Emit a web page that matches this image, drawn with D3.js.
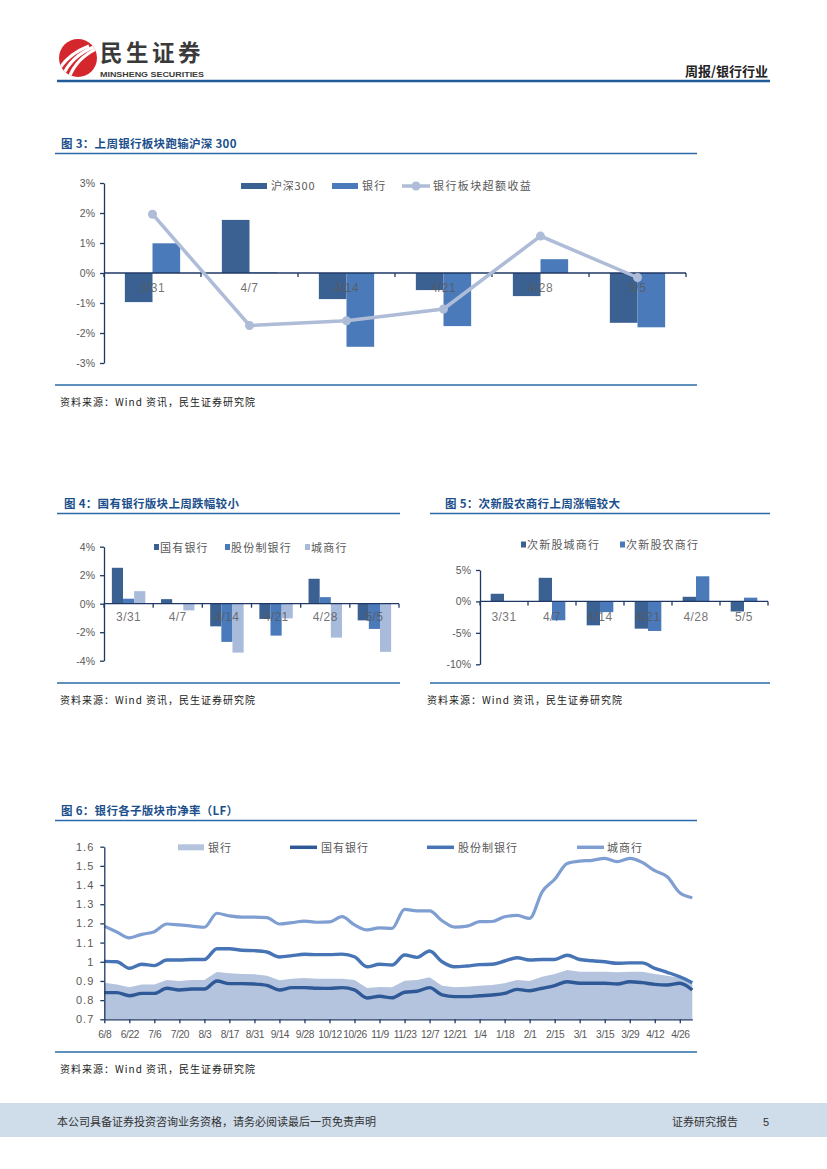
<!DOCTYPE html>
<html>
<head>
<meta charset="utf-8">
<script src="https://cdn.jsdelivr.net/npm/d3@7"></script>
<style>
  body { margin: 0; background: #fff; }
  svg text { font-family: "Liberation Sans", Arial, "Noto Sans CJK SC", sans-serif; }
  .cjk { font-family: "Noto Sans CJK SC", sans-serif; }
</style>
</head>
<body>
<svg id="page" width="827" height="1169"></svg>
<script>
// 图3 数据
const weeks = ["3/31", "4/7", "4/14", "4/21", "4/28", "5/5"];
const hs300 = [-0.97, 1.77, -0.87, -0.57, -0.77, -1.66];
const bankIdx = [0.99, 0.02, -2.46, -1.77, 0.46, -1.81];
const excess = [1.96, -1.75, -1.59, -1.2, 1.23, -0.15];
const ticks3 = [3, 2, 1, 0, -1, -2, -3];

// 图4 数据
const stateOwned = [2.52, 0.32, -1.59, -1.07, 1.75, -1.17];
const jointStock = [0.35, 0.02, -2.68, -2.24, 0.46, -1.77];
const cityComm = [0.88, -0.47, -3.43, -1.03, -2.38, -3.38];
const ticks4 = [4, 2, 0, -2, -4];

// 图5 数据
const newCity = [1.22, 3.76, -3.8, -4.33, 0.74, -1.6];
const newRural = [0, -3.0, -1.7, -4.7, 4.0, 0.6];
const ticks5 = [5, 0, -5, -10];

// 图6 数据（周度市净率）
const dates6 = ["6/8","6/15","6/22","6/29","7/6","7/13","7/20","7/27","8/3","8/10","8/17","8/24",
  "8/31","9/7","9/14","9/21","9/28","10/5","10/12","10/19","10/26","11/2","11/9","11/16",
  "11/23","11/30","12/7","12/14","12/21","12/28","1/4","1/11","1/18","1/25","2/1","2/8",
  "2/15","2/22","3/1","3/8","3/15","3/22","3/29","4/5","4/12","4/19","4/26","5/3"];
const pbBank = [0.891,0.882,0.867,0.882,0.882,0.905,0.9,0.905,0.905,0.947,0.94,0.936,
  0.935,0.927,0.903,0.912,0.915,0.912,0.912,0.912,0.905,0.863,0.868,0.867,
  0.901,0.905,0.919,0.875,0.867,0.87,0.875,0.879,0.888,0.905,0.9,0.922,
  0.936,0.957,0.948,0.948,0.948,0.945,0.948,0.948,0.936,0.927,0.917,0.891];
const pbState = [0.839,0.839,0.823,0.835,0.835,0.862,0.853,0.858,0.858,0.9,0.886,0.886,
  0.884,0.877,0.853,0.865,0.865,0.862,0.861,0.865,0.853,0.811,0.82,0.812,
  0.841,0.846,0.865,0.827,0.818,0.818,0.823,0.827,0.835,0.856,0.849,0.862,
  0.876,0.896,0.888,0.888,0.888,0.884,0.896,0.891,0.882,0.879,0.888,0.853];
const pbJoint = [1.002,1.0,0.966,0.987,0.98,1.009,1.009,1.012,1.012,1.068,1.068,1.06,
  1.058,1.051,1.025,1.032,1.039,1.037,1.037,1.04,1.026,0.974,0.987,0.983,
  1.035,1.023,1.056,1.0,0.974,0.978,0.985,0.987,1.004,1.021,1.009,1.012,
  1.012,1.034,1.012,1.005,1.0,0.992,0.994,0.994,0.966,0.945,0.922,0.891];
const pbCity = [1.186,1.155,1.125,1.143,1.157,1.197,1.192,1.186,1.18,1.253,1.239,1.233,
  1.233,1.23,1.197,1.204,1.212,1.206,1.208,1.235,1.192,1.166,1.177,1.174,
  1.273,1.265,1.265,1.214,1.181,1.186,1.209,1.21,1.235,1.242,1.226,1.365,
  1.43,1.513,1.525,1.529,1.539,1.522,1.539,1.518,1.475,1.443,1.36,1.334];
const ticks6 = [1.6, 1.5, 1.4, 1.3, 1.2, 1.1, 1, 0.9, 0.8, 0.7];

const navy = "#1f3864";
const grey = "#595959";
const rule = "#2b6aa9";

const svg = d3.select("#page");

// ---------- 页眉 ----------
const clip = svg.append("defs").append("clipPath").attr("id", "logoClip");
clip.append("circle").attr("cx", 78).attr("cy", 58).attr("r", 19);
const logo = svg.append("g");
logo.append("circle").attr("cx", 78).attr("cy", 58).attr("r", 19).attr("fill", "#d3262d");
const sw = logo.append("g").attr("clip-path", "url(#logoClip)");
[-9, -2, 5].forEach((o) => {
  sw.append("path")
    .attr("d", `M${64 + o},${78} Q${72 + o},${56} ${98 + o},${46}`)
    .attr("fill", "none").attr("stroke", "#fff").attr("stroke-width", 3.2);
});
svg.append("text").attr("class", "cjk").attr("x", 100).attr("y", 61)
  .attr("font-size", 22.5).attr("font-weight", 700).attr("letter-spacing", 3.5)
  .attr("fill", "#3a3a3a").text("民生证券");
svg.append("text").attr("x", 100).attr("y", 76.5).attr("font-size", 8).attr("font-weight", 700)
  .attr("fill", "#3a3a3a").attr("textLength", 104).attr("lengthAdjust", "spacingAndGlyphs")
  .text("MINSHENG SECURITIES");
svg.append("text").attr("class", "cjk").attr("x", 768).attr("y", 76).attr("text-anchor", "end")
  .attr("font-size", 13).attr("font-weight", 700).attr("fill", "#222").text("周报/银行行业");
svg.append("line").attr("x1", 57).attr("x2", 770).attr("y1", 81).attr("y2", 81)
  .attr("stroke", "#1f5c99").attr("stroke-width", 2.5);

// ---------- 页脚 ----------
svg.append("rect").attr("x", 0).attr("y", 1103).attr("width", 827).attr("height", 34).attr("fill", "#cfdcea");
svg.append("text").attr("class", "cjk").attr("x", 57).attr("y", 1126).attr("font-size", 11)
  .attr("fill", "#333").text("本公司具备证券投资咨询业务资格，请务必阅读最后一页免责声明");
svg.append("text").attr("class", "cjk").attr("x", 738).attr("y", 1126).attr("text-anchor", "end")
  .attr("font-size", 11).attr("fill", "#333").text("证券研究报告");
svg.append("text").attr("x", 763).attr("y", 1126).attr("font-size", 11).attr("fill", "#333").text("5");

// 图框：标题、上下分隔线、资料来源
function frame(o) {
  svg.append("text").attr("class", "cjk").attr("x", o.tx).attr("y", o.ty)
    .attr("font-size", 11.5).attr("font-weight", 700).attr("fill", "#1b4f8c")
    .attr("letter-spacing", 0.3).text(o.title);
  svg.append("line").attr("x1", o.x1).attr("x2", o.x2).attr("y1", o.ty + 5.5).attr("y2", o.ty + 5.5)
    .attr("stroke", rule).attr("stroke-width", 1.6);
  svg.append("line").attr("x1", o.x1).attr("x2", o.x2).attr("y1", o.by).attr("y2", o.by)
    .attr("stroke", rule).attr("stroke-width", 1.6);
  svg.append("text").attr("class", "cjk").attr("x", o.sx).attr("y", o.by + 21)
    .attr("font-size", 10).attr("letter-spacing", 1).attr("fill", "#222")
    .text("资料来源：Wind 资讯，民生证券研究院");
}

// 柱状图
function barChart(o) {
  const g = svg.append("g");
  const y = d3.scaleLinear().domain(o.yDomain).range(o.yRange);
  const x = d3.scaleBand().domain(o.cats).range(o.xRange).paddingInner(o.pad).paddingOuter(o.pad / 2);
  const xs = d3.scaleBand().domain(d3.range(o.series.length)).range([0, x.bandwidth()]);

  o.series.forEach((s, si) => {
    g.append("g").selectAll("rect").data(s.values).join("rect")
      .attr("x", (d, i) => x(o.cats[i]) + xs(si))
      .attr("y", (d) => y(Math.max(0, d)))
      .attr("width", xs.bandwidth())
      .attr("height", (d) => Math.abs(y(d) - y(0)))
      .attr("fill", s.color);
  });

  // y 轴
  const ya = g.append("g").attr("transform", `translate(${o.xRange[0]},0)`)
    .call(d3.axisLeft(y).tickValues(o.ticks).tickSize(4).tickSizeOuter(0).tickPadding(5)
      .tickFormat((d) => d + "%"));
  ya.select(".domain").attr("stroke", navy).attr("stroke-width", 1.3);
  ya.selectAll(".tick line").attr("stroke", navy).attr("stroke-width", 1.3);
  ya.selectAll(".tick text").attr("fill", grey).attr("font-size", 10.5)
    .attr("font-family", "Liberation Sans, Arial, sans-serif");

  // x 轴（0 线）及分类边界刻度
  const y0 = y(0);
  g.append("line").attr("x1", o.xRange[0]).attr("x2", o.xRange[1]).attr("y1", y0).attr("y2", y0)
    .attr("stroke", navy).attr("stroke-width", 1.3);
  g.append("g").selectAll("line").data(d3.range(o.cats.length + 1)).join("line")
    .attr("x1", (i) => o.xRange[0] + i * x.step()).attr("x2", (i) => o.xRange[0] + i * x.step())
    .attr("y1", y0).attr("y2", y0 + 4).attr("stroke", navy).attr("stroke-width", 1.3);
  g.append("g").selectAll("text").data(o.cats).join("text")
    .attr("x", (d) => x(d) + x.bandwidth() / 2).attr("y", y0 + o.labelOffset)
    .attr("text-anchor", "middle").attr("font-size", 12).attr("letter-spacing", 0.4)
    .attr("fill", grey).attr("fill-opacity", 0.85).text((d) => d);
  return { x, y, g };
}

// 方块图例
function squareLegend(items, yc) {
  items.forEach((it) => {
    svg.append("rect").attr("x", it.x).attr("y", yc - 3).attr("width", 5).attr("height", 6).attr("fill", it.color);
    svg.append("text").attr("class", "cjk").attr("x", it.x + 6).attr("y", yc + 4.5)
      .attr("font-size", 11).attr("letter-spacing", 1.2).attr("fill", grey).text(it.label);
  });
}

// ---------- 图3 ----------
frame({ tx: 61, ty: 148, x1: 55, x2: 697, by: 385, sx: 60, title: "图 3：上周银行板块跑输沪深 300" });
const c3 = barChart({
  cats: weeks, xRange: [104, 686], yDomain: [-3, 3], yRange: [363, 183], pad: 0.43,
  ticks: ticks3, labelOffset: 19,
  series: [{ values: hs300, color: "#3b6193" }, { values: bankIdx, color: "#4a7ab9" }]
});
const exLine = d3.line().x((d, i) => c3.x(weeks[i]) + c3.x.bandwidth() / 2).y((d) => c3.y(d));
c3.g.append("path").datum(excess).attr("d", exLine).attr("fill", "none")
  .attr("stroke", "#aebcd8").attr("stroke-width", 3.5);
c3.g.append("g").selectAll("circle").data(excess).join("circle")
  .attr("cx", (d, i) => c3.x(weeks[i]) + c3.x.bandwidth() / 2).attr("cy", (d) => c3.y(d))
  .attr("r", 4.5).attr("fill", "#aebcd8");
// 图例
svg.append("rect").attr("x", 241).attr("y", 183).attr("width", 26).attr("height", 6).attr("fill", "#3b6193");
svg.append("text").attr("class", "cjk").attr("x", 271).attr("y", 190).attr("font-size", 11)
  .attr("letter-spacing", 0.8).attr("fill", grey).text("沪深300");
svg.append("rect").attr("x", 332).attr("y", 183).attr("width", 26).attr("height", 6).attr("fill", "#4a7ab9");
svg.append("text").attr("class", "cjk").attr("x", 362).attr("y", 190).attr("font-size", 11)
  .attr("letter-spacing", 1.2).attr("fill", grey).text("银行");
svg.append("line").attr("x1", 402).attr("x2", 430).attr("y1", 186).attr("y2", 186)
  .attr("stroke", "#aebcd8").attr("stroke-width", 3.5);
svg.append("circle").attr("cx", 416).attr("cy", 186).attr("r", 4.5).attr("fill", "#aebcd8");
svg.append("text").attr("class", "cjk").attr("x", 433).attr("y", 190).attr("font-size", 11)
  .attr("letter-spacing", 1.4).attr("fill", grey).text("银行板块超额收益");

// ---------- 图4 ----------
frame({ tx: 64, ty: 508, x1: 57, x2: 400, by: 683, sx: 60, title: "图 4：国有银行版块上周跌幅较小" });
barChart({
  cats: weeks, xRange: [104, 399], yDomain: [-4, 4], yRange: [660.7, 546.7], pad: 0.32,
  ticks: ticks4, labelOffset: 17.5,
  series: [{ values: stateOwned, color: "#3b6193" }, { values: jointStock, color: "#4a7ab9" },
    { values: cityComm, color: "#a9bbdb" }]
});
squareLegend([
  { x: 154, color: "#3b6193", label: "国有银行" },
  { x: 225, color: "#4a7ab9", label: "股份制银行" },
  { x: 305, color: "#a9bbdb", label: "城商行" }
], 547);

// ---------- 图5 ----------
frame({ tx: 445, ty: 508, x1: 430, x2: 770, by: 683, sx: 427, title: "图 5：次新股农商行上周涨幅较大" });
barChart({
  cats: weeks, xRange: [480, 768], yDomain: [-10, 5], yRange: [664.3, 570], pad: 0.445,
  ticks: ticks5, labelOffset: 19.5,
  series: [{ values: newCity, color: "#3b6193" }, { values: newRural, color: "#4a7ab9" }]
});
squareLegend([
  { x: 521, color: "#3b6193", label: "次新股城商行" },
  { x: 620, color: "#4a7ab9", label: "次新股农商行" }
], 544.5);

// ---------- 图6 ----------
frame({ tx: 61, ty: 815, x1: 55, x2: 697, by: 1052, sx: 60, title: "图 6：银行各子版块市净率（LF）" });
const x6 = d3.scalePoint().domain(dates6).range([104.3, 692.3]);
const y6 = d3.scaleLinear().domain([0.7, 1.6]).range([1019.3, 846.7]);
const g6 = svg.append("g");
g6.append("path").datum(pbBank)
  .attr("d", d3.area().x((d, i) => x6(dates6[i])).y0(y6(0.7)).y1((d) => y6(d)))
  .attr("fill", "#b4c3de");
const line6 = d3.line().x((d, i) => x6(dates6[i])).y((d) => y6(d)).curve(d3.curveMonotoneX);
[
  { v: pbCity, c: "#7f9ed2", w: 3.2 },
  { v: pbJoint, c: "#4674b4", w: 3.4 },
  { v: pbState, c: "#2e5896", w: 3.4 }
].forEach((s) => {
  g6.append("path").datum(s.v).attr("d", line6).attr("fill", "none")
    .attr("stroke", s.c).attr("stroke-width", s.w).attr("stroke-linejoin", "round");
});
const ya6 = g6.append("g").attr("transform", "translate(104.3,0)")
  .call(d3.axisLeft(y6).tickValues(ticks6).tickSize(4).tickSizeOuter(0).tickPadding(6)
    .tickFormat((d) => String(d)));
ya6.select(".domain").attr("stroke", navy).attr("stroke-width", 1.3);
ya6.selectAll(".tick line").attr("stroke", navy).attr("stroke-width", 1.3);
ya6.selectAll(".tick text").attr("fill", grey).attr("font-size", 11).attr("letter-spacing", 1)
  .attr("font-family", "Liberation Sans, Arial, sans-serif");
const tickDates = dates6.filter((d, i) => i % 2 === 0);
const xa6 = g6.append("g").attr("transform", "translate(0,1019.3)")
  .call(d3.axisBottom(x6).tickValues(tickDates).tickSize(4).tickSizeOuter(0).tickPadding(7));
xa6.select(".domain").attr("stroke", navy).attr("stroke-width", 1.3);
xa6.selectAll(".tick line").attr("stroke", navy).attr("stroke-width", 1.3);
xa6.selectAll(".tick text").attr("fill", grey).attr("font-size", 10.2).attr("letter-spacing", -0.4)
  .attr("font-family", "Liberation Sans, Arial, sans-serif");
// 图例
svg.append("rect").attr("x", 178).attr("y", 844.3).attr("width", 26).attr("height", 6).attr("fill", "#b4c3de");
[
  { x: 208, label: "银行" },
  { x: 321, label: "国有银行" },
  { x: 458, label: "股份制银行" },
  { x: 607, label: "城商行" }
].forEach((it) => {
  svg.append("text").attr("class", "cjk").attr("x", it.x).attr("y", 851.5).attr("font-size", 11)
    .attr("letter-spacing", 1).attr("fill", grey).text(it.label);
});
[
  { x: 290, c: "#2e5896" },
  { x: 427, c: "#4674b4" },
  { x: 577, c: "#7f9ed2" }
].forEach((it) => {
  svg.append("line").attr("x1", it.x).attr("x2", it.x + 27).attr("y1", 847.3).attr("y2", 847.3)
    .attr("stroke", it.c).attr("stroke-width", 3.5);
});
</script>
</body>
</html>
